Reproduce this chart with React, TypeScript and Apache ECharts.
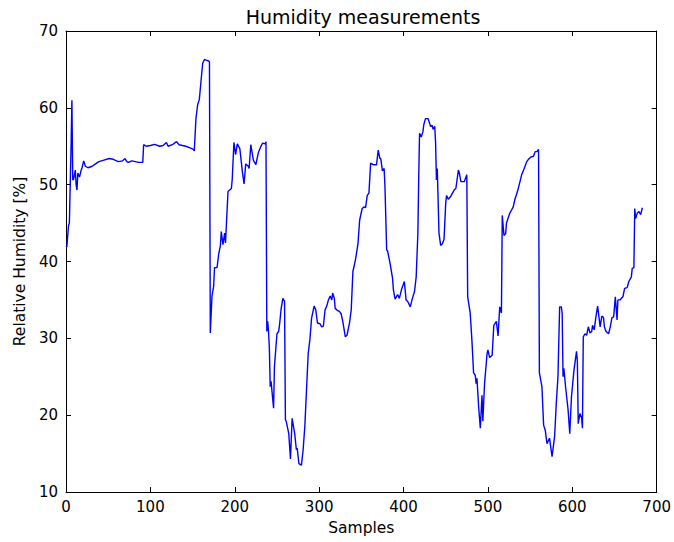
import React, { useEffect, useRef } from "react";
import * as echarts from "echarts";

const samples: number[] = [
  0, 1, 3, 4, 6, 7, 8, 9, 11, 12, 13, 14, 16, 18, 19, 21, 23, 26, 31, 35, 39, 45, 51, 56, 62, 67, 70, 72, 74, 78, 82, 86, 91,
  92, 95, 100, 105, 111, 115, 119, 121, 126, 131, 134, 138, 142, 147, 151, 152, 154, 156, 158, 160, 162, 164, 166, 169, 170,
  171, 173, 175, 176, 179, 181, 183, 184, 186, 188, 189, 192, 196, 197, 199, 201, 203, 206, 209, 211, 213, 216, 217, 219, 222,
  225, 228, 231, 233, 236, 237, 238, 239, 240, 241, 242, 243, 246, 247, 250, 252, 253, 255, 257, 259, 260, 261, 264, 266, 268,
  271, 273, 274, 276, 279, 281, 283, 287, 289, 291, 294, 296, 298, 301, 303, 305, 307, 309, 311, 313, 315, 316, 318, 319, 322,
  324, 326, 328, 331, 333, 336, 338, 340, 343, 346, 348, 351, 353, 355, 357, 359, 361, 364, 368, 370, 372, 373, 375, 377, 378,
  380, 381, 384, 387, 388, 390, 393, 395, 398, 401, 403, 405, 408, 410, 413, 415, 417, 418, 419, 421, 423, 424, 426, 429, 432,
  434, 435, 437, 438, 439, 440, 442, 444, 446, 448, 450, 451, 453, 456, 458, 460, 462, 465, 466, 468, 472, 475, 476, 479, 481,
  483, 485, 486, 487, 489, 491, 493, 494, 496, 499, 500, 502, 505, 507, 510, 512, 514, 516, 517, 519, 521, 522, 526, 528, 530,
  532, 535, 538, 540, 543, 546, 548, 551, 554, 556, 558, 560, 561, 564, 566, 568, 570, 573, 576, 579, 581, 583, 585, 587, 588,
  589, 590, 592, 595, 597, 599, 602, 605, 606, 607, 609, 611, 612, 613, 615, 617, 619, 621, 623, 624, 626, 628, 630, 632, 633,
  635, 637, 638, 640, 643, 645, 647, 649, 651, 653, 654, 657, 658, 660, 662, 665, 667, 670, 671, 673, 674, 675, 677, 679, 681,
  683,
];

const humidity: number[] = [
  42.0, 41.9, 44.7, 45.0, 55.0, 61.0, 50.6, 50.7, 51.9, 50.0, 49.3, 51.5, 51.0, 51.9, 52.2, 53.1, 52.4, 52.2, 52.4, 52.7, 53.0,
  53.2, 53.4, 53.3, 53.0, 53.1, 53.4, 53.0, 52.9, 53.1, 53.0, 52.9, 52.9,
  55.2, 55.0, 55.1, 55.25, 55.0, 55.1, 55.5, 55.0, 55.2, 55.6, 55.2, 55.1, 55.0, 54.8, 54.6, 54.4, 58.6, 60.4, 61.1, 63.5, 65.8,
  66.3, 66.2, 66.1, 66.0,
  30.7, 35.5, 36.8, 39.2, 39.2, 41.0, 42.1, 43.9, 42.2, 43.7, 42.4, 49.1, 49.5, 50.7, 55.5, 53.9, 55.3, 54.7, 51.7, 50.1, 52.7,
  52.4, 52.1, 55.2, 53.2,
  52.6, 54.2, 55.0, 55.4, 55.3, 55.6, 30.9, 32.2, 30.9, 28.7, 23.7, 24.4, 20.9, 26.3, 30.6, 30.9, 31.7, 33.9, 35.2, 34.8, 19.4,
  19.2, 17.6, 14.3, 19.6,
  17.6, 15.5, 15.7, 13.7, 13.5, 15.5, 18.5, 28.0, 29.8, 32.6, 34.2, 33.7, 32.0, 31.9, 31.5, 31.6, 33.7, 34.2, 35.0, 35.5, 35.0,
  35.9, 35.2, 33.9, 33.6,
  33.5, 33.2, 32.2, 30.2, 30.4, 32.0, 33.7, 38.7, 40.2, 42.3, 45.4, 46.9, 47.1, 47.0, 48.6, 48.9, 52.8, 52.6, 52.6, 54.5, 53.4,
  53.4, 51.8, 52.1, 49.7,
  41.5, 41.4, 39.8, 37.8, 36.3, 35.1, 35.7, 35.2, 36.5, 37.4, 35.0, 34.8, 34.1, 35.0, 36.1, 38.0, 43.7, 51.0, 56.7, 56.2, 56.9,
  57.8, 58.6, 58.6, 57.6,
  57.7, 57.2, 57.6, 55.4, 50.6, 52.1, 43.7, 42.1, 42.3, 42.9, 47.6, 48.6, 48.1, 48.5, 48.9, 49.3, 49.5, 51.9, 51.6, 50.4, 50.4,
  51.3, 35.4, 33.3, 29.8,
  25.5, 25.2, 24.1, 24.8, 21.1, 18.3, 22.6, 19.2, 24.1, 28.0, 28.5, 27.5, 27.8, 31.7, 32.2, 30.3, 34.1, 33.3, 46.0, 43.4, 43.6,
  45.0, 46.3, 46.7, 47.1,
  48.1, 49.1, 50.4, 51.3, 52.1, 53.0, 53.3, 53.6, 53.7, 54.3, 54.3, 54.6, 25.5, 23.7, 18.7, 18.0, 16.3, 17.0, 14.6, 17.2, 21.5,
  25.0, 34.1, 34.1, 33.2,
  25.0, 26.1, 23.7, 20.7, 17.6, 22.4, 25.9, 28.3, 27.0, 18.9, 20.2, 19.7, 18.3, 30.2, 30.6, 30.4, 31.5, 30.7, 30.9, 31.7, 31.1,
  32.8, 34.2, 32.4, 31.5,
  32.9, 32.7, 31.5, 30.9, 30.6, 31.5, 32.7, 32.8, 35.4, 32.4, 35.0, 35.0, 35.2, 35.4, 36.5, 36.6, 37.4, 38.0, 39.1, 39.2, 46.9,
  45.6, 46.3, 46.5, 46.1,
  47.0,
];

const xTicks = { min: 0, max: 700, step: 100 };
const yTicks = { min: 10, max: 70, step: 10 };

const FONT = "DejaVu Sans";

export default function App() {
  const ref = useRef<HTMLDivElement>(null);

  useEffect(() => {
    if (!ref.current) return;
    const chart = echarts.init(ref.current, undefined, { renderer: "svg" });
    const data = samples.map((s, i) => [s, humidity[i]]);

    const axisCommon = {
      axisLine: { show: true, onZero: false, lineStyle: { color: "#000", width: 1 } },
      axisTick: { show: true, inside: true, length: 5, lineStyle: { color: "#000", width: 1 } },
      splitLine: { show: false },
    };

    chart.setOption({
      animation: false,
      backgroundColor: "#fff",
      grid: { left: 66, right: 13, top: 31, bottom: 50, containLabel: false },
      graphic: [
        {
          type: "text",
          x: 363,
          y: 17,
          style: {
            text: "Humidity measurements",
            fontSize: 19,
            fontFamily: FONT,
            fill: "#000",
            align: "center",
            verticalAlign: "middle",
          },
        },
      ],
      xAxis: [
        {
          type: "value",
          position: "bottom",
          min: xTicks.min,
          max: xTicks.max,
          interval: xTicks.step,
          ...axisCommon,
          axisLabel: { color: "#000", fontSize: 15, fontFamily: FONT, margin: 7 },
          name: "Samples",
          nameLocation: "middle",
          nameGap: 28,
          nameTextStyle: { color: "#000", fontSize: 15.5, fontFamily: FONT, verticalAlign: "top" },
        },
        {
          type: "value",
          position: "top",
          min: xTicks.min,
          max: xTicks.max,
          interval: xTicks.step,
          ...axisCommon,
          axisLabel: { show: false },
        },
      ],
      yAxis: [
        {
          type: "value",
          position: "left",
          min: yTicks.min,
          max: yTicks.max,
          interval: yTicks.step,
          ...axisCommon,
          axisLabel: { color: "#000", fontSize: 15, fontFamily: FONT, margin: 8 },
          name: "Relative Humidity [%]",
          nameLocation: "middle",
          nameGap: 37,
          nameTextStyle: { color: "#000", fontSize: 15.5, fontFamily: FONT },
        },
        {
          type: "value",
          position: "right",
          min: yTicks.min,
          max: yTicks.max,
          interval: yTicks.step,
          ...axisCommon,
          axisLabel: { show: false },
        },
      ],
      series: [
        {
          type: "line",
          xAxisIndex: 0,
          yAxisIndex: 0,
          data,
          showSymbol: false,
          symbol: "none",
          lineStyle: { color: "#0000ff", width: 1.4 },
          itemStyle: { color: "#0000ff" },
          clip: true,
        },
      ],
    });

    return () => chart.dispose();
  }, []);

  return (
    <div
      ref={ref}
      style={{ position: "fixed", left: 0, top: 0, width: 674, height: 542, background: "#fff" }}
    />
  );
}
